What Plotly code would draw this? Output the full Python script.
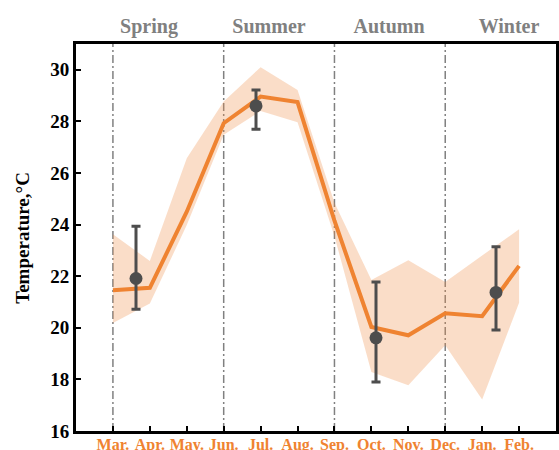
import plotly.graph_objects as go

# Monthly temperature (°C): mean and band limits
months = ["Mar.", "Apr.", "May.", "Jun.", "Jul.", "Aug.",
          "Sep.", "Oct.", "Nov.", "Dec.", "Jan.", "Feb."]
temp_mean = [21.46, 21.55, 24.50, 27.93, 28.96, 28.75,
             24.15, 20.03, 19.71, 20.56, 20.45, 22.40]
temp_upper = [23.63, 22.59, 26.57, 28.77, 30.10, 29.22,
              24.85, 21.85, 22.62, 21.78, 22.80, 23.82]
temp_lower = [20.19, 20.94, 23.98, 27.48, 28.40, 27.97,
              23.55, 18.29, 17.77, 19.32, 17.22, 20.97]

# Seasonal mean with error range
seasons = ["Spring", "Summer", "Autumn", "Winter"]
season_mean = [21.91, 28.60, 19.61, 21.37]
season_high = [23.94, 29.22, 21.78, 23.14]
season_low = [20.72, 27.70, 17.90, 19.91]

# Season boundaries (month index)
boundaries = [0, 3, 6, 9]

serif = "Liberation Serif, Times New Roman, serif"
orange = "#EF8331"
dark = "#4D4D4D"

mi = list(range(len(months)))
fig = go.Figure()

# shaded range band
fig.add_trace(go.Scatter(
    x=mi + mi[::-1], y=temp_upper + temp_lower[::-1],
    fill="toself", fillcolor="rgba(238,142,72,0.30)",
    line=dict(width=0), mode="lines", hoverinfo="skip", showlegend=False,
))

# monthly mean line
fig.add_trace(go.Scatter(
    x=mi, y=temp_mean, mode="lines",
    line=dict(color=orange, width=4), showlegend=False,
))

# seasonal means with error bars (on a season axis)
si = list(range(len(seasons)))
fig.add_trace(go.Scatter(
    x=si, y=season_mean, xaxis="x2", mode="markers",
    marker=dict(color=dark, size=13),
    error_y=dict(type="data", symmetric=False,
                 array=[h - m for h, m in zip(season_high, season_mean)],
                 arrayminus=[m - l for m, l in zip(season_mean, season_low)],
                 color=dark, thickness=3, width=4.5),
    showlegend=False,
))

# dash-dot season dividers
for b in boundaries:
    fig.add_shape(type="line", xref="x", yref="paper", x0=b, x1=b, y0=0, y1=1,
                  line=dict(color="#808080", width=1.5, dash="8px,3px,2px,3px"),
                  layer="below")

fig.update_layout(
    width=559, height=450,
    margin=dict(l=76, r=3, t=44, b=19),
    plot_bgcolor="white", paper_bgcolor="white",
    font=dict(family=serif, color="black"),
    xaxis=dict(
        range=[-1, 12], tickmode="array", tickvals=mi, ticktext=months,
        tickfont=dict(family=serif, size=16, color=orange, weight="bold"),
        ticks="inside", ticklen=5, tickwidth=2, tickcolor="black",
        showline=True, linecolor="black", linewidth=3, mirror=True,
        showgrid=False, zeroline=False, automargin=False,
        ticklabelstandoff=-3,
    ),
    xaxis2=dict(
        overlaying="x", anchor="y", side="top",
        range=[-0.5, 3.5], tickmode="array", tickvals=si, ticktext=seasons,
        tickfont=dict(family=serif, size=20, color="#808080", weight="bold"),
        ticklabelshift=13, ticks="", showline=False, showgrid=False,
        zeroline=False, ticklabelstandoff=6, automargin=False,
    ),
    yaxis=dict(
        range=[16, 31], tickmode="array", tickvals=list(range(16, 31, 2)),
        tickfont=dict(family=serif, size=19, color="black", weight="bold"),
        ticks="inside", ticklen=5, tickwidth=2, tickcolor="black",
        showline=True, linecolor="black", linewidth=3, mirror=True,
        showgrid=False, zeroline=False, automargin=False,
    ),
    annotations=[dict(
        text="Temperature,°C", xref="paper", yref="paper",
        x=-0.112, y=0.5, xanchor="center", yanchor="middle",
        textangle=-90, showarrow=False,
        font=dict(family=serif, size=19, color="black", weight="bold"),
    )],
)

fig.write_html("out.html")
